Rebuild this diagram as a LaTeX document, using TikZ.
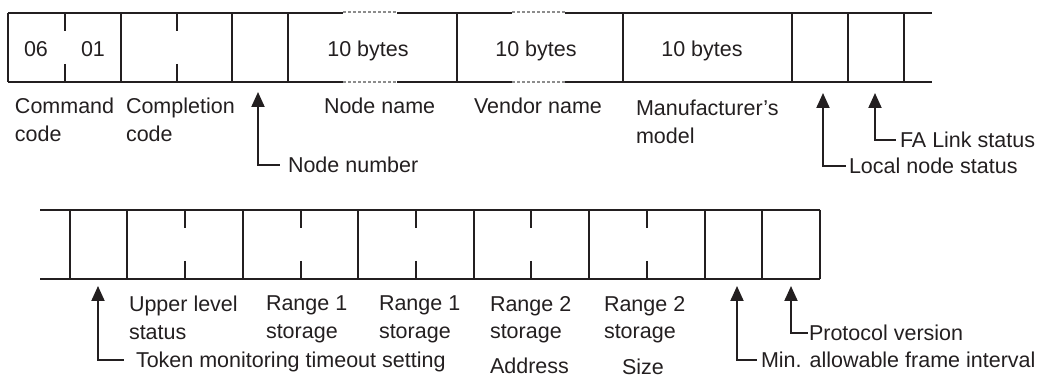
\documentclass[tikz,border=0pt]{standalone}
\usepackage{fontspec}
\setmainfont{Liberation Sans}
\usetikzlibrary{positioning,arrows.meta}
\definecolor{cInk}{HTML}{231F20}
\definecolor{cGap}{HTML}{8C8C8C}

\begin{document}
\begin{tikzpicture}[x=1pt,y=-1pt,line width=2pt,
    every node/.style={inner sep=0pt,font=\fontsize{21.5}{27.5}\selectfont,text=cInk},
    cellText/.style={text height=15pt,text depth=0pt},
    caption/.style={anchor=north west,align=left},
    pointLabel/.style={anchor=west,text height=15pt,text depth=0pt,outer xsep=#1},
    pointLabel/.default=6pt,
    pointer/.style={draw=cInk,{Triangle[width=13pt,length=15pt]}-}]
  \useasboundingbox (0,0) rectangle (1037,379);

  % upper frame
  \draw[cInk] (8,13) -- (932,13) (8,82) -- (932,82);
  \foreach \a/\b in {343/397,512/565}{
    \draw[white,line width=3pt] (\a,13) -- (\b,13) (\a,82) -- (\b,82);
    \draw[cGap,dash pattern=on 3pt off 2pt] (\a,12) -- (\b,12) (\a,82) -- (\b,82);
  }
  \foreach \x in {8,121,232,288,457,623,792,848,904}
    \draw[cInk] (\x,13) -- (\x,82);
  \foreach \x in {65,177}
    \draw[cInk] (\x,13) -- (\x,31) (\x,64) -- (\x,82);

  \node[cellText] (cmd1) at (36,49) {06};
  \node[cellText] (cmd2) at (93,49) {01};
  \node[cellText] (nname) at (368,49) {10 bytes};
  \node[cellText] (vname) at (536,49) {10 bytes};
  \node[cellText] (mmodel) at (702,49) {10 bytes};

  \node[caption] (cmdcap) at (14,97) {Command\\code};
  \node[caption] (compcap) at (125,97) {Completion\\code};
  \node[caption] (nnamecap) at (323,97) {Node name};
  \node[caption] (vnamecap) at (473,97) {Vendor name};
  \node[caption] (mmodelcap) at (635,99) {Manufacturer's\\model};

  \coordinate (nnumtip) at (258,92);
  \coordinate (localtip) at (823,93);
  \coordinate (fatip) at (875,93);
  \node[pointLabel=8pt] (nnum) at (280,165) {Node number};
  \node[pointLabel=3pt] (local) at (846,166) {Local node status};
  \node[pointLabel=4pt] (falink) at (896,140) {FA Link status};
  \draw[pointer] (nnumtip) |- (nnum.west);
  \draw[pointer] (localtip) |- (local.west);
  \draw[pointer] (fatip) |- (falink.west);

  % lower frame
  \draw[cInk] (40,210) -- (820,210) (40,279) -- (820,279);
  \foreach \x in {70,127,243,358,474,589,705,762,820}
    \draw[cInk] (\x,210) -- (\x,279);
  \foreach \x in {185,301,416,531,647}
    \draw[cInk] (\x,210) -- (\x,228) (\x,261) -- (\x,279);

  \node[caption] (uppercap) at (128,295) {Upper level\\status};
  \node[caption] (r1addr) at (265,295) {Range 1\\storage};
  \node[caption] (r1size) at (378,295) {Range 1\\storage};
  \node[caption] (r2addr) at (489,295) {Range 2\\storage};
  \node[caption] (r2size) at (603,295) {Range 2\\storage};
  \node[anchor=base west] (addrcap) at (489,374) {Address};
  \node[anchor=base west] (sizecap) at (621,375) {Size};

  \coordinate (tokentip) at (98,286);
  \coordinate (mintip) at (737,286);
  \coordinate (prottip) at (791,286);
  \node[pointLabel=12pt] (token) at (124,360) {Token monitoring timeout setting};
  \node[pointLabel=4pt] (minframe) at (757,360) {Min. allowable frame interval};
  \node[pointLabel=1pt] (protocol) at (808,333) {Protocol version};
  \draw[pointer] (tokentip) |- (token.west);
  \draw[pointer] (mintip) |- (minframe.west);
  \draw[pointer] (prottip) |- (protocol.west);
\end{tikzpicture}
\end{document}
